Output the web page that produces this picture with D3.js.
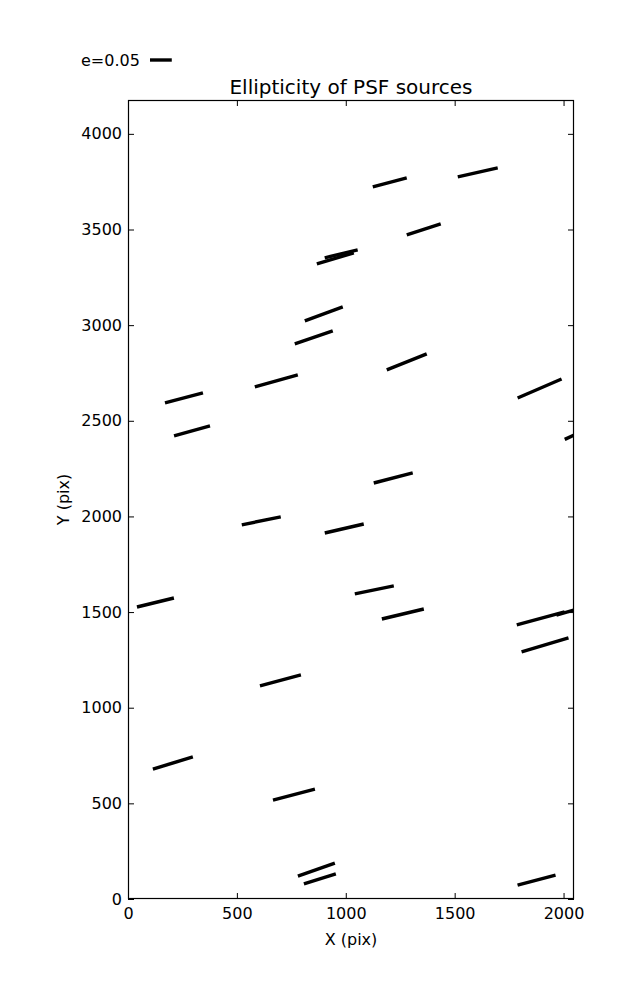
<!DOCTYPE html>
<html>
<head>
<meta charset="utf-8">
<script src="https://cdn.jsdelivr.net/npm/d3@7"></script>
<style>
  html, body { margin: 0; padding: 0; background: #fff; }
  svg { display: block; font-family: "DejaVu Sans", sans-serif; }
</style>
</head>
<body>
<svg id="chart" width="637" height="1000"></svg>
<script>
// Source positions (detector pixels), ellipticity and position angle (deg)
const srcX = [1202, 1606, 1358, 952, 979, 899, 853, 681, 257, 294, 1280, 1890, 2085,
              1218, 612, 993, 126, 1131, 700, 1262, 1895, 2062, 1915, 206, 762, 865, 881, 1876];
const srcY = [3746, 3799, 3501, 3349, 3373, 3059, 2936, 2709, 2620, 2447, 2808, 2669, 2445,
              2201, 1977, 1937, 1550, 1616, 1143, 1490, 1467, 1516, 1328, 711, 546, 154, 105, 99];
const ellip = [0.0815, 0.0947, 0.0831, 0.0896, 0.0785, 0.0945, 0.0936, 0.1035, 0.091, 0.0866, 0.1008, 0.1125, 0.09,
               0.0932, 0.0919, 0.0925, 0.088, 0.0919, 0.0983, 0.0998, 0.115, 0.10, 0.1138, 0.097, 0.1005, 0.0914, 0.0779, 0.091];
const angleDeg = [16.8, 14.4, 20.2, 18.7, 15.4, 22.8, 21.3, 17.6, 16.7, 17.6, 24.5, 26.2, 28,
                  16.3, 13.2, 14.7, 15.5, 13.2, 17.0, 15.2, 17.2, 18.5, 18.8, 18.9, 16.6, 21.8, 19.6, 16.7];
const xTicks = [0, 500, 1000, 1500, 2000];
const yTicks = [0, 500, 1000, 1500, 2000, 2500, 3000, 3500, 4000];
const xDomain = [0, 2048];
const yDomain = [0, 4177];
const legendE = 0.05;
const whiskerScale = 2000; // data units of whisker length per unit ellipticity

const svg = d3.select("#chart");
const mLeft = 128, mRight = 574, mTop = 100, mBottom = 899;
const x = d3.scaleLinear().domain(xDomain).range([mLeft, mRight]);
const y = d3.scaleLinear().domain(yDomain).range([mBottom, mTop]);

svg.append("defs").append("clipPath").attr("id", "plotclip")
  .append("rect").attr("x", mLeft).attr("y", mTop).attr("width", mRight - mLeft).attr("height", mBottom - mTop);

const data = srcX.map((d, i) => ({x: d, y: srcY[i], e: ellip[i], a: angleDeg[i] * Math.PI / 180}));

svg.append("g").attr("clip-path", "url(#plotclip)")
  .selectAll("line").data(data).join("line")
  .attr("x1", d => x(d.x - 0.5 * whiskerScale * d.e * Math.cos(d.a)))
  .attr("x2", d => x(d.x + 0.5 * whiskerScale * d.e * Math.cos(d.a)))
  .attr("y1", d => y(d.y - 0.5 * whiskerScale * d.e * Math.sin(d.a)))
  .attr("y2", d => y(d.y + 0.5 * whiskerScale * d.e * Math.sin(d.a)))
  .attr("stroke", "#000").attr("stroke-width", 3.4);

// axes (inward ticks on all sides)
const tickLen = 6;
const fs = "16px";
const axB = svg.append("g").attr("transform", `translate(0,${mBottom})`)
  .call(d3.axisBottom(x).tickValues(xTicks).tickSize(-tickLen).tickPadding(9).tickFormat(d3.format("d")));
const axT = svg.append("g").attr("transform", `translate(0,${mTop})`)
  .call(d3.axisTop(x).tickValues(xTicks).tickSize(-tickLen).tickFormat(""));
const axL = svg.append("g").attr("transform", `translate(${mLeft},0)`)
  .call(d3.axisLeft(y).tickValues(yTicks).tickSize(-tickLen).tickPadding(6).tickFormat(d3.format("d")));
const axR = svg.append("g").attr("transform", `translate(${mRight},0)`)
  .call(d3.axisRight(y).tickValues(yTicks).tickSize(-tickLen).tickFormat(""));
[axB, axT, axL, axR].forEach(g => {
  g.select(".domain").remove();
  g.selectAll(".tick line").attr("stroke", "#000").attr("stroke-width", 1);
  g.selectAll(".tick text").attr("fill", "#000").style("font-size", fs).style("font-family", "DejaVu Sans");
});

svg.append("rect").attr("x", mLeft + 0.5).attr("y", mTop + 0.5)
  .attr("width", mRight - mLeft - 1).attr("height", mBottom - mTop - 1)
  .attr("fill", "none").attr("stroke", "#000").attr("stroke-width", 1.2);

// labels
svg.append("text").attr("x", (mLeft + mRight) / 2).attr("y", 94).attr("text-anchor", "middle")
  .style("font-size", "20px").text("Ellipticity of PSF sources");
svg.append("text").attr("x", (mLeft + mRight) / 2).attr("y", 945).attr("text-anchor", "middle")
  .style("font-size", fs).text("X (pix)");
svg.append("text").attr("transform", `translate(69,${(mTop + mBottom) / 2}) rotate(-90)`)
  .attr("text-anchor", "middle").style("font-size", fs).text("Y (pix)");

// legend
svg.append("text").attr("x", 81).attr("y", 66).style("font-size", fs).text("e=" + legendE.toFixed(2));
const lx = 150;
svg.append("line").attr("x1", lx).attr("x2", lx + (x(whiskerScale * legendE) - x(0)))
  .attr("y1", 60).attr("y2", 60).attr("stroke", "#000").attr("stroke-width", 3.4);
</script>
</body>
</html>
